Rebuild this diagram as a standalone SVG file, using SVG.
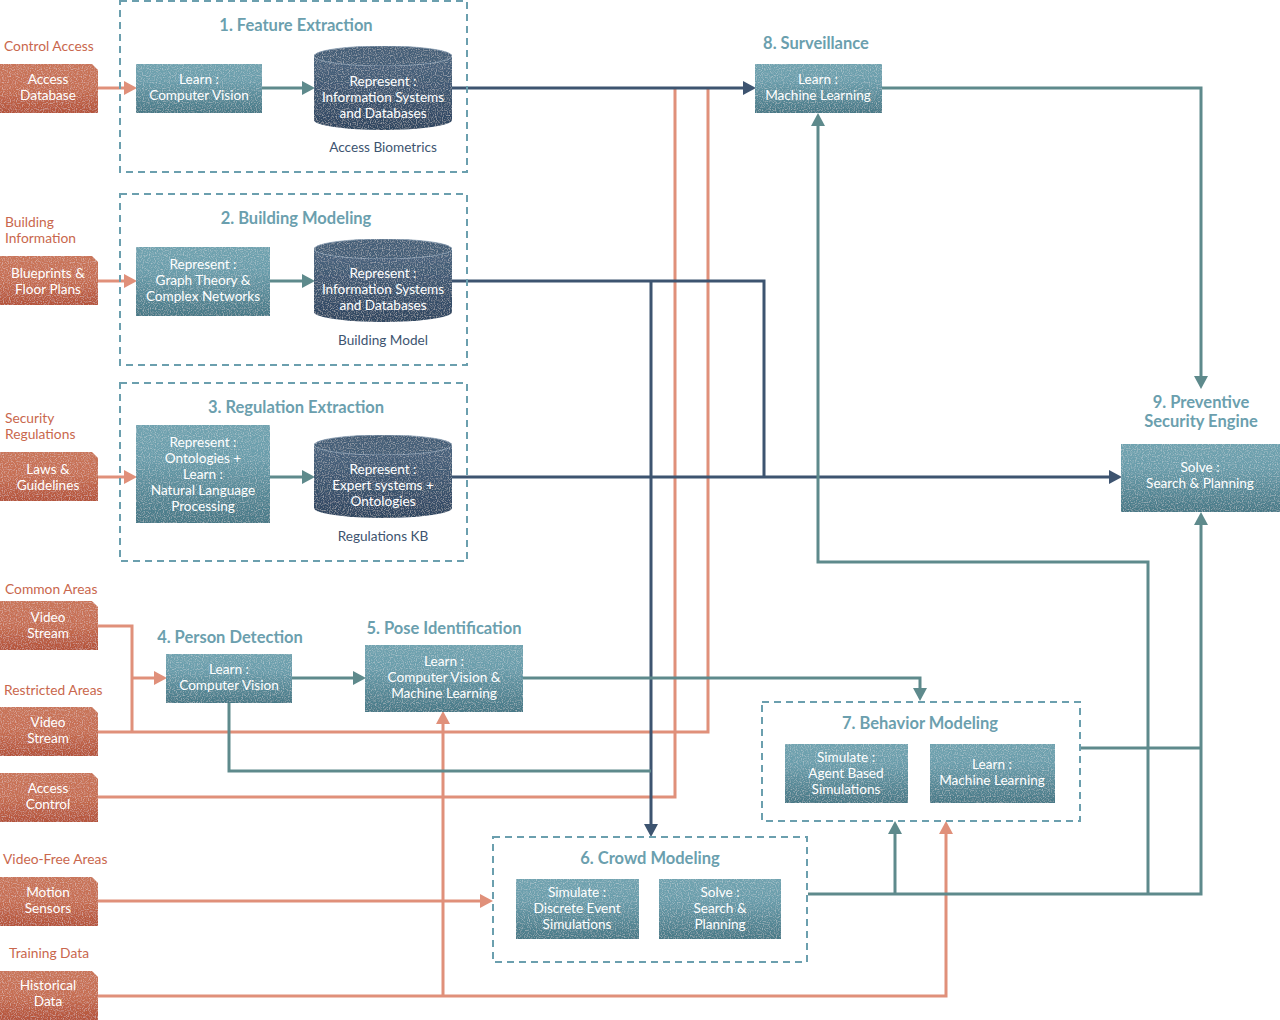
<svg xmlns="http://www.w3.org/2000/svg" width="1280" height="1020" viewBox="0 0 1280 1020">
<defs>
<linearGradient id="gTeal" x1="0" y1="0" x2="0" y2="1">
<stop offset="0" stop-color="#70a3b0"/><stop offset="0.35" stop-color="#6a9dab"/><stop offset="1" stop-color="#477886"/>
</linearGradient>
<linearGradient id="gNavy" x1="0" y1="0" x2="0" y2="1">
<stop offset="0" stop-color="#4f6a84"/><stop offset="1" stop-color="#2e4560"/>
</linearGradient>
<linearGradient id="gOrange" x1="0" y1="0" x2="0" y2="1">
<stop offset="0" stop-color="#c9755a"/><stop offset="0.5" stop-color="#c66e52"/><stop offset="1" stop-color="#b4533a"/>
</linearGradient>
<filter id="grain" x="0" y="0" width="1" height="1">
<feTurbulence type="fractalNoise" baseFrequency="0.85" numOctaves="1" seed="4" result="n"/>
<feColorMatrix in="n" type="matrix" values="0 0 0 0 1  0 0 0 0 1  0 0 0 0 1  2.2 0 0 0 -1.05" result="w"/>
<feComposite in="w" in2="SourceGraphic" operator="in" result="wi"/>
<feComponentTransfer in="wi" result="wf"><feFuncA type="linear" slope="0.45"/></feComponentTransfer>
<feMerge><feMergeNode in="SourceGraphic"/><feMergeNode in="wf"/></feMerge>
</filter>
<marker id="aNavy" markerUnits="userSpaceOnUse" markerWidth="14" markerHeight="14" refX="2" refY="7" orient="auto"><path d="M0,0 L13,7 L0,14 z" fill="#3d5470"/></marker>
<marker id="aTeal" markerUnits="userSpaceOnUse" markerWidth="14" markerHeight="14" refX="2" refY="7" orient="auto"><path d="M0,0 L13,7 L0,14 z" fill="#5e8a8c"/></marker>
<marker id="aOrange" markerUnits="userSpaceOnUse" markerWidth="14" markerHeight="14" refX="2" refY="7" orient="auto"><path d="M0,0 L13,7 L0,14 z" fill="#e0907a"/></marker>
</defs>
<style>
text{font-family:Lato,"Open Sans","Liberation Sans",sans-serif;}
.cluster{fill:none;stroke:#6b9fae;stroke-width:2;stroke-dasharray:7,5;}
.title{font-size:16.5px;font-weight:bold;fill:#6b9fae;text-anchor:middle;}
.tbox{fill:url(#gTeal);filter:url(#grain);}
.cyl{fill:url(#gNavy);filter:url(#grain);}
.cyltop{fill:#445e78;stroke:#8fa2b5;stroke-width:0.8;filter:url(#grain);}
.inp{fill:url(#gOrange);filter:url(#grain);}
.wt{font-size:13.6px;fill:#ffffff;text-anchor:middle;}
.lbl{font-size:13.8px;fill:#c9674d;}
.dk{font-size:13.6px;fill:#3d5470;text-anchor:middle;}
.cn{fill:none;stroke:#3d5470;stroke-width:3;}
.ct{fill:none;stroke:#5e8a8c;stroke-width:3;}
.co{fill:none;stroke:#e0907a;stroke-width:3;}
</style>
<rect width="1280" height="1020" fill="#ffffff"/>

<g id="connectors">
<path class="co" d="M98,88 H126" marker-end="url(#aOrange)"/>
<path class="co" d="M98,281 H126" marker-end="url(#aOrange)"/>
<path class="co" d="M98,477 H126" marker-end="url(#aOrange)"/>
<path class="co" d="M98,626 H132 V732"/>
<path class="co" d="M132,678 H156" marker-end="url(#aOrange)"/>
<path class="co" d="M98,732 H708 V88"/>
<path class="co" d="M98,797 H675 V88"/>
<path class="co" d="M98,901 H482" marker-end="url(#aOrange)"/>
<path class="co" d="M98,996 H946 V832" marker-end="url(#aOrange)"/>
<path class="co" d="M443,996 V722" marker-end="url(#aOrange)"/>
<path class="ct" d="M262,88 H304" marker-end="url(#aTeal)"/>
<path class="ct" d="M270,281 H304" marker-end="url(#aTeal)"/>
<path class="ct" d="M270,477 H304" marker-end="url(#aTeal)"/>
<path class="cn" d="M452,88 H745" marker-end="url(#aNavy)"/>
<path class="cn" d="M452,281 H764 V477"/>
<path class="cn" d="M651,281 V826" marker-end="url(#aNavy)"/>
<path class="cn" d="M452,477 H1111" marker-end="url(#aNavy)"/>
<path class="ct" d="M229,703 V771 H651"/>
<path class="ct" d="M292,678 H355" marker-end="url(#aTeal)"/>
<path class="ct" d="M523,678 H920 V690" marker-end="url(#aTeal)"/>
<path class="ct" d="M882,88 H1201 V378" marker-end="url(#aTeal)"/>
<path class="ct" d="M808,894 H1201 V523" marker-end="url(#aTeal)"/>
<path class="ct" d="M1081,748 H1201"/>
<path class="ct" d="M895,894 V832" marker-end="url(#aTeal)"/>
<path class="ct" d="M1148,894 V562 H818 V124" marker-end="url(#aTeal)"/>
</g>

<g id="in-access-db">
<text class="lbl" x="4" y="51">Control Access</text>
<path class="inp" d="M0,64 H92 L98,70 V113 H0 Z"/>
<text class="wt" x="48" y="84">Access</text><text class="wt" x="48" y="100">Database</text>
</g>
<g id="in-blueprints">
<text class="lbl" x="5" y="227">Building</text><text class="lbl" x="5" y="243">Information</text>
<path class="inp" d="M0,256 H92 L98,262 V305 H0 Z"/>
<text class="wt" x="48" y="278">Blueprints &amp;</text><text class="wt" x="48" y="294">Floor Plans</text>
</g>
<g id="in-laws">
<text class="lbl" x="5" y="423">Security</text><text class="lbl" x="5" y="439">Regulations</text>
<path class="inp" d="M0,452 H92 L98,458 V501 H0 Z"/>
<text class="wt" x="48" y="474">Laws &amp;</text><text class="wt" x="48" y="490">Guidelines</text>
</g>
<g id="in-video-common">
<text class="lbl" x="5" y="594">Common Areas</text>
<path class="inp" d="M0,601 H92 L98,607 V650 H0 Z"/>
<text class="wt" x="48" y="622">Video</text><text class="wt" x="48" y="638">Stream</text>
</g>
<g id="in-video-restricted">
<text class="lbl" x="4" y="695">Restricted Areas</text>
<path class="inp" d="M0,707 H92 L98,713 V756 H0 Z"/>
<text class="wt" x="48" y="727">Video</text><text class="wt" x="48" y="743">Stream</text>
</g>
<g id="in-access-control">
<path class="inp" d="M0,773 H92 L98,779 V822 H0 Z"/>
<text class="wt" x="48" y="793">Access</text><text class="wt" x="48" y="809">Control</text>
</g>
<g id="in-motion">
<text class="lbl" x="3" y="864">Video-Free Areas</text>
<path class="inp" d="M0,877 H92 L98,883 V926 H0 Z"/>
<text class="wt" x="48" y="897">Motion</text><text class="wt" x="48" y="913">Sensors</text>
</g>
<g id="in-historical">
<text class="lbl" x="9" y="958">Training Data</text>
<path class="inp" d="M0,971 H92 L98,977 V1020 H0 Z"/>
<text class="wt" x="48" y="990">Historical</text><text class="wt" x="48" y="1006">Data</text>
</g>

<g id="c1-feature-extraction">
<rect class="cluster" x="120" y="1" width="347" height="171"/>
<text class="title" x="296" y="31">1. Feature Extraction</text>
<rect class="tbox" x="136" y="64" width="126" height="49"/>
<text class="wt" x="199" y="84">Learn :</text><text class="wt" x="199" y="100">Computer Vision</text>
<path class="cyl" d="M314,56 V120 A69,10 0 0 0 452,120 V56 A69,10 0 0 0 314,56 Z"/>
<ellipse class="cyltop" cx="383" cy="56" rx="69" ry="10"/>
<text class="wt" x="383" y="86">Represent :</text><text class="wt" x="383" y="102">Information Systems</text><text class="wt" x="383" y="118">and Databases</text>
<text class="dk" x="383" y="152">Access Biometrics</text>
</g>

<g id="c2-building-modeling">
<rect class="cluster" x="120" y="194" width="347" height="171"/>
<text class="title" x="296" y="224">2. Building Modeling</text>
<rect class="tbox" x="136" y="247" width="134" height="69"/>
<text class="wt" x="203" y="269">Represent :</text><text class="wt" x="203" y="285">Graph Theory &amp;</text><text class="wt" x="203" y="301">Complex Networks</text>
<path class="cyl" d="M314,249 V312 A69,10 0 0 0 452,312 V249 A69,10 0 0 0 314,249 Z"/>
<ellipse class="cyltop" cx="383" cy="249" rx="69" ry="10"/>
<text class="wt" x="383" y="278">Represent :</text><text class="wt" x="383" y="294">Information Systems</text><text class="wt" x="383" y="310">and Databases</text>
<text class="dk" x="383" y="345">Building Model</text>
</g>

<g id="c3-regulation-extraction">
<rect class="cluster" x="120" y="383" width="347" height="178"/>
<text class="title" x="296" y="413">3. Regulation Extraction</text>
<rect class="tbox" x="136" y="425" width="134" height="98"/>
<text class="wt" x="203" y="447">Represent :</text><text class="wt" x="203" y="463">Ontologies +</text><text class="wt" x="203" y="479">Learn :</text><text class="wt" x="203" y="495">Natural Language</text><text class="wt" x="203" y="511">Processing</text>
<path class="cyl" d="M314,445 V508 A69,10 0 0 0 452,508 V445 A69,10 0 0 0 314,445 Z"/>
<ellipse class="cyltop" cx="383" cy="445" rx="69" ry="10"/>
<text class="wt" x="383" y="474">Represent :</text><text class="wt" x="383" y="490">Expert systems +</text><text class="wt" x="383" y="506">Ontologies</text>
<text class="dk" x="383" y="541">Regulations KB</text>
</g>

<g id="n4-person-detection">
<text class="title" x="230" y="643">4. Person Detection</text>
<rect class="tbox" x="166" y="654" width="126" height="49"/>
<text class="wt" x="229" y="674">Learn :</text><text class="wt" x="229" y="690">Computer Vision</text>
</g>

<g id="n5-pose-identification">
<text class="title" x="444" y="634">5. Pose Identification</text>
<rect class="tbox" x="365" y="645" width="158" height="67"/>
<text class="wt" x="444" y="666">Learn :</text><text class="wt" x="444" y="682">Computer Vision &amp;</text><text class="wt" x="444" y="698">Machine Learning</text>
</g>

<g id="c6-crowd-modeling">
<rect class="cluster" x="493" y="837" width="314" height="125"/>
<text class="title" x="650" y="864">6. Crowd Modeling</text>
<rect class="tbox" x="516" y="879" width="123" height="60"/>
<text class="wt" x="577" y="897">Simulate :</text><text class="wt" x="577" y="913">Discrete Event</text><text class="wt" x="577" y="929">Simulations</text>
<rect class="tbox" x="659" y="879" width="122" height="60"/>
<text class="wt" x="720" y="897">Solve :</text><text class="wt" x="720" y="913">Search &amp;</text><text class="wt" x="720" y="929">Planning</text>
</g>

<g id="c7-behavior-modeling">
<rect class="cluster" x="762" y="702" width="318" height="119"/>
<text class="title" x="920" y="729">7. Behavior Modeling</text>
<rect class="tbox" x="785" y="744" width="123" height="59"/>
<text class="wt" x="846" y="762">Simulate :</text><text class="wt" x="846" y="778">Agent Based</text><text class="wt" x="846" y="794">Simulations</text>
<rect class="tbox" x="930" y="744" width="125" height="59"/>
<text class="wt" x="992" y="769">Learn :</text><text class="wt" x="992" y="785">Machine Learning</text>
</g>

<g id="n8-surveillance">
<text class="title" x="816" y="49">8. Surveillance</text>
<rect class="tbox" x="755" y="64" width="127" height="49"/>
<text class="wt" x="818" y="84">Learn :</text><text class="wt" x="818" y="100">Machine Learning</text>
</g>

<g id="n9-preventive">
<text class="title" x="1201" y="408">9. Preventive</text><text class="title" x="1201" y="427">Security Engine</text>
<rect class="tbox" x="1121" y="444" width="159" height="68"/>
<text class="wt" x="1200" y="472">Solve :</text><text class="wt" x="1200" y="488">Search &amp; Planning</text>
</g>
</svg>
